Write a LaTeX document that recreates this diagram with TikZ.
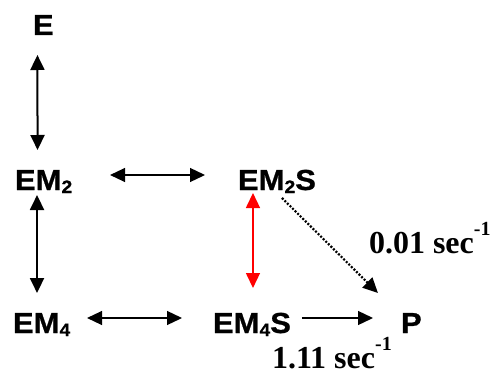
\documentclass[tikz,border=0pt]{standalone}
\usepackage{fontspec}
\usetikzlibrary{arrows.meta}
\newfontfamily\arl[FakeStretch=1.07, BoldFeatures={FakeBold=0.8}]{Liberation Sans}
\newfontfamily\tms{Liberation Serif}
% subscript and superscript helpers
\newcommand{\lo}[1]{\raisebox{-3pt}{\fontsize{18}{18}\selectfont #1}}
\newcommand{\hi}[1]{\raisebox{18pt}{\fontsize{20}{20}\selectfont #1}}
\begin{document}
\begin{tikzpicture}[x=1pt,y=1pt,
  species/.style={inner sep=0pt, outer sep=0pt, anchor=base west,
    font=\arl\bfseries\fontsize{29}{34}\selectfont},
  rate/.style={inner sep=0pt, outer sep=0pt, anchor=base west,
    font=\tms\bfseries\fontsize{32}{36}\selectfont},
  eqv/.style={{Triangle[length=15pt,width=14pt]}-{Triangle[length=15pt,width=14pt]}, line width=2pt},
  eqh/.style={{Triangle[length=15pt,width=14pt]}-{Triangle[length=15pt,width=14pt]}, line width=1.3pt},
  fwd/.style={-{Triangle[length=15pt,width=14pt]}, line width=1.3pt},
  slow/.style={-{Triangle[length=15pt,width=14pt]}, line width=2.2pt, dash pattern=on 2pt off 1.6pt},
]
\useasboundingbox (0,0) rectangle (495,373);

% species
\node[species] (E)    at (33,338)  {E};
\node[species] (EM2)  at (15,183)  {EM\lo{2}};
\node[species] (EM2S) at (238,183) {EM\lo{2}S};
\node[species] (EM4)  at (13,40)   {EM\lo{4}};
\node[species] (EM4S) at (213,40)  {EM\lo{4}S};
\node[species] (P)    at (401,40)  {P};

% rate constants
\node[rate] (k1) at (369,120) {0.01 sec\hi{-1}};
\node[rate] (k2) at (272,5)   {1.11 sec\hi{-1}};

% equilibria
\draw[eqv] ([shift={(-5.9,-20)}]E.base) -- ([shift={(-6.1,40)}]EM2.base);
\draw[eqv] ([shift={(-6.6,-5)}]EM2.base) -- ([shift={(-4.6,40)}]EM4.base);
\draw[eqh] ([shift={(37.8,15)}]EM2.base east) -- ([shift={(-33,15)}]EM2S.base west);
\draw[eqh] ([shift={(16.8,15)}]EM4.base east) -- ([shift={(-31,15)}]EM4S.base west);
\draw[eqv, red, line width=1.5pt] ([shift={(-24,-3)}]EM2S.base) -- ([shift={(1,45)}]EM4S.base);

% product formation
\draw[fwd] ([shift={(11,15)}]EM4S.base east) -- ([shift={(-28,15)}]P.base west);
\draw[slow] ([shift={(5,-8)}]EM2S.base) -- ([shift={(-33.4,40)}]P.base);
\end{tikzpicture}
\end{document}
